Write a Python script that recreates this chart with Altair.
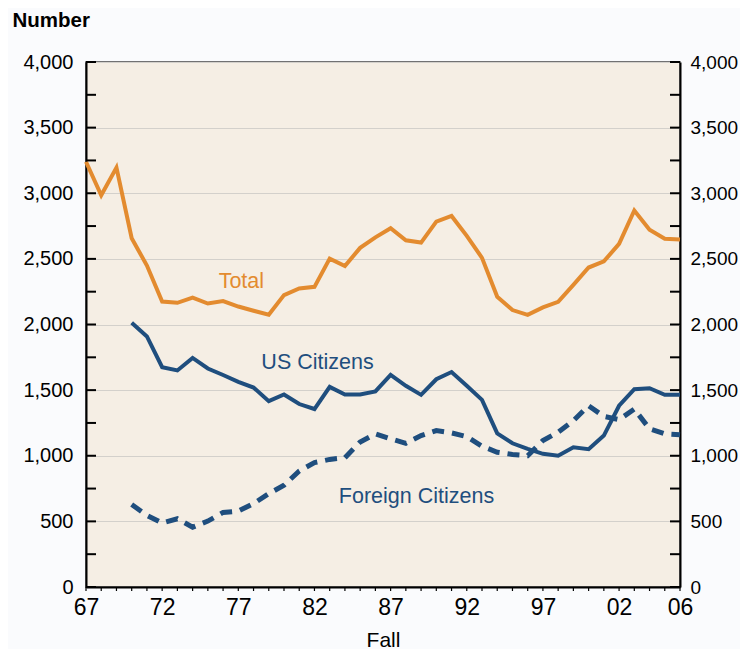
import altair as alt
import pandas as pd

years = list(range(1967, 2007))
total = [3240, 2985, 3195, 2657, 2449, 2175, 2165, 2205, 2160, 2178,
         2137, 2105, 2074, 2224, 2274, 2287, 2502, 2446, 2584, 2664,
         2733, 2642, 2624, 2784, 2827, 2675, 2508, 2211, 2110, 2074,
         2130, 2173, 2302, 2434, 2481, 2614, 2869, 2722, 2653, 2648]
us_years = list(range(1970, 2007))
us_citizens = [2013, 1909, 1675, 1650, 1745, 1665, 1615, 1563, 1520, 1416,
               1467, 1394, 1356, 1525, 1467, 1467, 1490, 1616, 1533, 1464,
               1583, 1638, 1533, 1426, 1171, 1095, 1053, 1015, 1000, 1065,
               1050, 1154, 1381, 1507, 1515, 1464, 1464]
foreign_citizens = [629, 546, 487, 520, 456, 502, 568, 578, 635, 711,
                    775, 884, 948, 972, 985, 1105, 1167, 1129, 1095, 1154,
                    1192, 1174, 1146, 1073, 1027, 1010, 1000, 1116, 1180, 1268,
                    1381, 1300, 1275, 1356, 1205, 1167, 1160]

label_text = ["Total", "US Citizens", "Foreign Citizens"]
label_year = [1977.2, 1982.2, 1988.7]
label_value = [2322, 1705, 686]
label_series = ["Total", "US", "Foreign"]

x_label_years = [1967, 1972, 1977, 1982, 1987, 1992, 1997, 2002, 2006]
y_label_values = [0, 500, 1000, 1500, 2000, 2500, 3000, 3500, 4000]
y_tick_values = list(range(0, 4001, 250))

ORANGE = "#E38B2F"
BLUE = "#1F4E7E"
FONT = "Liberation Sans"

rows = [{"year": y, "value": v, "series": "Total"} for y, v in zip(years, total)]
rows += [{"year": y, "value": v, "series": "US"} for y, v in zip(us_years, us_citizens)]
rows += [{"year": y, "value": v, "series": "Foreign"} for y, v in zip(us_years, foreign_citizens)]
df = pd.DataFrame(rows)
labels_df = pd.DataFrame({"year": label_year, "value": label_value,
                          "text": label_text, "series": label_series})
yticks_df = pd.DataFrame({"v": y_tick_values})
xticks_df = pd.DataFrame({"year": years})

W, H = 594, 525
xscale = alt.Scale(domain=[1967, 2006], nice=False, zero=False)
yscale = alt.Scale(domain=[0, 4000], nice=False)
color_scale = alt.Scale(domain=["Total", "US", "Foreign"], range=[ORANGE, BLUE, BLUE])

x_enc = alt.X("year:Q", scale=xscale, axis=alt.Axis(
    values=x_label_years, labelExpr="slice(toString(datum.value), 2)",
    title="Fall", labelOverlap=False, labelFlush=False, ticks=False,
    domainColor="black", domainWidth=2, grid=False, labelFontSize=23,
    labelPadding=9, titleFontSize=21, titleFontWeight="normal", titlePadding=10,
    labelColor="black", titleColor="black", labelFont=FONT, titleFont=FONT))

left_axis = alt.Axis(values=y_label_values, format=",d", title="Number",
                     titleAngle=0, titleAlign="left", titleBaseline="alphabetic",
                     titleX=-74, titleY=-36, titleFontSize=20.5, titleFontWeight="bold",
                     ticks=False, domainColor="black", domainWidth=2,
                     grid=True, gridColor="#D3D0CB", gridWidth=1.2,
                     labelFontSize=20, labelPadding=13, labelColor="black",
                     titleColor="black", labelFont=FONT, titleFont=FONT)
right_axis = alt.Axis(values=y_label_values, format=",d", title=None, orient="right",
                      ticks=False, domainColor="black", domainWidth=2, grid=False,
                      labelFontSize=19, labelPadding=10, labelColor="black",
                      labelFont=FONT)

solid = alt.Chart(df).transform_filter("datum.series != 'Foreign'").mark_line(
    strokeWidth=4).encode(
    x=x_enc,
    y=alt.Y("value:Q", scale=yscale, axis=left_axis),
    color=alt.Color("series:N", scale=color_scale, legend=None),
    detail="series:N")

dashed = alt.Chart(df).transform_filter("datum.series == 'Foreign'").mark_line(
    strokeWidth=5, strokeDash=[12, 8], color=BLUE).encode(
    x=alt.X("year:Q", scale=xscale),
    y=alt.Y("value:Q", scale=yscale, axis=right_axis))

texts = alt.Chart(labels_df).mark_text(fontSize=21.5, font=FONT, align="center").encode(
    x=alt.X("year:Q", scale=xscale),
    y=alt.Y("value:Q", scale=yscale, axis=None),
    text="text:N",
    color=alt.Color("series:N", scale=color_scale, legend=None))

ticks_left = alt.Chart(yticks_df).mark_rule(color="black", strokeWidth=2).encode(
    x=alt.value(0), x2=alt.value(10),
    y=alt.Y("v:Q", scale=yscale, axis=None))
ticks_right = alt.Chart(yticks_df).mark_rule(color="black", strokeWidth=2).encode(
    x=alt.value(W - 10), x2=alt.value(W),
    y=alt.Y("v:Q", scale=yscale, axis=None))
ticks_bottom = alt.Chart(xticks_df).mark_rule(color="black", strokeWidth=1.2).encode(
    x=alt.X("year:Q", scale=xscale),
    y=alt.value(H), y2=alt.value(H + 4))

chart = alt.layer(solid, dashed, texts, ticks_left, ticks_right, ticks_bottom).resolve_axis(
    y="independent").properties(
    width=W, height=H,
    autosize=alt.AutoSizeParams(type="none"),
    padding={"left": 78, "top": 54, "right": 60, "bottom": 62},
    background="#FAFBFD",
).configure_view(fill="#F5EEE4", stroke="#444444", strokeWidth=1.5)

chart.save("out.html", embed_options={"renderer": "svg", "actions": False})
